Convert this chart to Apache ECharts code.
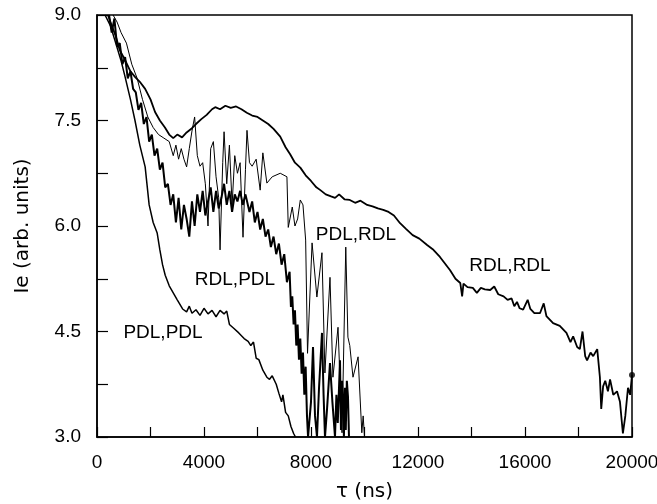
<!DOCTYPE html>
<html lang="en">
<head>
    <meta charset="UTF-8">
    <title>Ie vs tau</title>
    <script src="https://cdn.jsdelivr.net/npm/echarts@6/dist/echarts.min.js"></script>
    <style>
        html, body { margin: 0; padding: 0; background: #fff; }
    </style>
</head>
<body>
<div id="main" style="width: 657px;height:504px;"></div>

<script type="text/javascript">
    // [tau (ns), Ie]
    var pdlPdl = [[300,9.0],[500,8.85],[700,8.6],[900,8.35],[1050,8.12],[1250,7.8],[1420,7.5],[1600,7.15],
        [1800,6.84],[1950,6.3],[2100,6.05],[2250,5.9],[2350,5.66],[2450,5.45],[2550,5.3],[2700,5.15],
        [2850,5.05],[3000,4.95],[3200,4.82],[3350,4.78],[3450,4.86],[3550,4.76],[3700,4.81],[3850,4.73],
        [4000,4.83],[4150,4.75],[4300,4.8],[4450,4.71],[4600,4.8],[4750,4.75],[4850,4.79],[4950,4.6],
        [5100,4.55],[5300,4.48],[5500,4.4],[5650,4.36],[5750,4.3],[5850,4.35],[5950,4.12],[6050,4.1],
        [6200,3.95],[6350,3.85],[6450,3.82],[6550,3.87],[6700,3.75],[6800,3.62],[6900,3.5],[6950,3.6],
        [7050,3.35],[7150,3.3],[7250,3.15],[7350,3.05],[7420,3.0]];

    var rdlRdl = [[410,9.0],[550,8.85],[700,8.7],[850,8.5],[1050,8.36],[1250,8.2],[1420,8.12],[1600,8.05],
        [1800,7.95],[2000,7.8],[2170,7.62],[2350,7.5],[2540,7.4],[2700,7.3],[2850,7.25],[3000,7.3],
        [3180,7.26],[3350,7.33],[3550,7.39],[3700,7.45],[3900,7.52],[4100,7.58],[4300,7.66],[4420,7.69],
        [4600,7.66],[4800,7.71],[5000,7.68],[5200,7.7],[5400,7.66],[5600,7.61],[5800,7.57],[6000,7.55],
        [6200,7.5],[6400,7.45],[6600,7.38],[6850,7.27],[7050,7.12],[7220,7.02],[7400,6.9],[7600,6.83],
        [7800,6.72],[8000,6.64],[8200,6.55],[8350,6.51],[8550,6.45],[8750,6.42],[8900,6.4],[9050,6.45],
        [9250,6.38],[9450,6.37],[9650,6.33],[9850,6.36],[10100,6.3],[10300,6.28],[10500,6.25],[10700,6.23],
        [10900,6.2],[11100,6.15],[11330,6.04],[11550,5.96],[11800,5.87],[12050,5.82],[12340,5.73],
        [12550,5.67],[12820,5.56],[13000,5.47],[13200,5.37],[13400,5.25],[13580,5.19],[13650,5.0],
        [13700,5.18],[13850,5.13],[14050,5.12],[14200,5.05],[14350,5.12],[14500,5.1],[14700,5.09],
        [14850,5.14],[15000,5.03],[15200,5.0],[15350,4.95],[15500,4.97],[15600,4.86],[15700,4.92],
        [15800,4.83],[15930,4.81],[16100,4.95],[16200,4.82],[16350,4.76],[16560,4.76],[16700,4.9],
        [16800,4.72],[17050,4.62],[17300,4.58],[17550,4.48],[17700,4.35],[17800,4.43],[17950,4.28],
        [18050,4.25],[18150,4.5],[18250,4.15],[18320,4.09],[18450,4.2],[18550,4.15],[18700,4.25],
        [18800,3.85],[18850,3.4],[18920,3.72],[19000,3.8],[19100,3.65],[19180,3.82],[19300,3.6],
        [19440,3.65],[19550,3.5],[19660,3.05],[19750,3.3],[19850,3.7],[19930,3.6],[20000,3.88]];

    var rdlPdl = [[450,9.0],[550,8.75],[650,8.95],[750,8.55],[850,8.6],[950,8.3],[1050,8.4],[1150,8.1],
        [1250,8.2],[1350,7.95],[1450,7.9],[1550,7.65],[1650,7.75],[1750,7.45],[1850,7.55],[1950,7.2],
        [2050,7.3],[2150,7.0],[2250,7.1],[2350,6.8],[2450,6.9],[2550,6.55],[2650,6.6],[2750,6.3],
        [2850,6.45],[2950,6.05],[3050,6.4],[3150,5.95],[3250,6.3],[3350,6.1],[3450,5.85],[3550,6.35],
        [3650,6.0],[3750,6.45],[3850,6.2],[3950,6.5],[4050,6.15],[4150,6.35],[4250,6.55],[4350,6.2],
        [4450,6.5],[4550,6.25],[4650,6.4],[4750,6.6],[4850,6.3],[4950,6.5],[5050,6.2],[5150,6.45],
        [5250,6.35],[5350,6.5],[5450,6.3],[5550,6.45],[5600,6.45],[5700,6.2],[5800,6.35],[5900,6.05],
        [6000,6.2],[6100,5.95],[6200,6.1],[6300,5.85],[6400,5.95],[6500,5.7],[6600,5.85],[6700,5.6],
        [6800,5.75],[6900,5.45],[7000,5.6],[7100,5.2],[7200,5.35],[7250,4.85],[7300,5.0],[7350,4.6],
        [7400,4.8],[7450,4.3],[7500,4.6],[7550,4.1],[7600,4.4],[7650,3.9],[7700,4.2],[7750,3.6],
        [7800,4.0],[7850,3.3],[7890,3.0],[7950,3.0],[8000,3.5],[8075,4.28],[8150,3.3],[8224,3.0],
        [8300,3.7],[8411,4.48],[8470,3.6],[8523,3.0],[8600,3.4],[8710,4.05],[8800,3.5],[8897,3.0],
        [8950,3.6],[9000,3.2],[9084,4.09],[9120,3.1],[9160,3.8],[9196,3.57],[9230,3.0],[9270,3.7],
        [9300,3.1],[9340,3.8],[9383,3.57],[9420,3.0]];

    var pdlRdl = [[600,9.0],[750,8.9],[900,8.75],[1100,8.6],[1300,8.3],[1500,8.1],[1700,7.8],[1900,7.55],
        [2100,7.4],[2300,7.3],[2500,7.25],[2700,7.2],[2850,7.0],[2950,7.15],[3050,6.95],[3150,7.1],
        [3250,6.95],[3350,6.84],[3450,7.1],[3550,7.35],[3650,7.55],[3750,7.0],[3850,6.85],[3950,6.9],
        [4050,6.6],[4150,6.0],[4250,7.1],[4350,7.2],[4450,6.7],[4550,6.4],[4600,5.66],[4700,6.9],
        [4750,7.34],[4850,6.6],[4950,7.15],[5050,6.3],[5150,7.0],[5250,6.75],[5350,6.9],[5458,5.84],
        [5550,6.8],[5607,7.36],[5700,6.9],[5800,6.85],[5950,6.95],[6100,6.51],[6200,7.04],[6350,6.61],
        [6550,6.7],[6850,6.75],[7100,6.7],[7150,5.98],[7300,6.27],[7400,6.0],[7500,6.1],[7600,6.37],
        [7700,6.3],[7800,5.8],[7870,4.19],[8040,5.76],[8220,4.99],[8410,5.62],[8520,3.91],[8710,5.27],
        [8820,3.85],[9010,4.56],[9160,3.06],[9300,5.7],[9380,4.42],[9450,4.3],[9570,3.85],[9760,4.14],
        [9900,3.06],[9950,3.3],[10000,3.0]];

    // curve labels: [tau, Ie, text]
    var curveLabels = [[2467,4.48,'PDL,PDL'],[5158,5.23,'RDL,PDL'],[9682,5.87,'PDL,RDL'],[15439,5.43,'RDL,RDL']];

    var xTickLabels = [0, 4000, 8000, 12000, 16000, 20000];
    var yTickLabels = [3.0, 4.5, 6.0, 7.5, 9.0];

    var myChart = echarts.init(document.getElementById('main'));
    var font = 'Liberation Sans, Arial, sans-serif';

    function lineSeries(name, data, width) {
        return {
            name: name,
            type: 'line',
            data: data,
            showSymbol: false,
            silent: true,
            clip: true,
            lineStyle: {color: '#000', width: width},
            z: 3
        };
    }

    option = {
        animation: false,
        backgroundColor: '#fff',
        grid: {
            left: 97, right: 25, top: 15, bottom: 67,
            containLabel: false,
            outerBoundsMode: 'none',
            show: true, borderColor: '#000', borderWidth: 1.5
        },
        xAxis: {
            type: 'value',
            min: 0, max: 20000, interval: 2000,
            name: 'τ (ns)',
            nameLocation: 'middle',
            nameGap: 45,
            nameTextStyle: {fontFamily: 'DejaVu Sans', fontSize: 20, color: '#000'},
            axisLine: {lineStyle: {color: '#000', width: 1.5}},
            axisTick: {inside: true, length: 10, lineStyle: {color: '#000', width: 1.2}},
            splitLine: {show: false},
            axisLabel: {
                margin: 16, fontFamily: font, fontSize: 19, color: '#000',
                formatter: function (v) {
                    return xTickLabels.indexOf(v) >= 0 ? String(v) : '';
                }
            }
        },
        yAxis: {
            type: 'value',
            min: 3, max: 9, interval: 0.75,
            name: 'Ie (arb. units)',
            nameLocation: 'middle',
            nameGap: 64,
            nameTextStyle: {fontFamily: 'DejaVu Sans', fontSize: 20, color: '#000'},
            axisLine: {show: true, lineStyle: {color: '#000', width: 1.5}},
            axisTick: {show: true, inside: true, length: 11, lineStyle: {color: '#000', width: 1.2}},
            splitLine: {show: false},
            axisLabel: {
                margin: 16, fontFamily: font, fontSize: 19, color: '#000',
                formatter: function (v) {
                    for (var i = 0; i < yTickLabels.length; i++) {
                        if (Math.abs(yTickLabels[i] - v) < 1e-6) return v.toFixed(1);
                    }
                    return '';
                }
            }
        },
        series: [
            lineSeries('PDL,PDL', pdlPdl, 1.5),
            lineSeries('RDL,RDL', rdlRdl, 1.8),
            lineSeries('RDL,PDL', rdlPdl, 2),
            lineSeries('PDL,RDL', pdlRdl, 1),
            {
                type: 'scatter',
                data: [rdlRdl[rdlRdl.length - 1]],
                symbol: 'circle',
                symbolSize: 6,
                itemStyle: {color: '#000'},
                silent: true,
                z: 4
            },
            {
                type: 'scatter',
                data: curveLabels,
                symbolSize: 0,
                silent: true,
                label: {
                    show: true,
                    position: 'inside',
                    formatter: function (p) { return p.data[2]; },
                    fontFamily: font, fontSize: 19, color: '#000',
                    textBorderWidth: 0, opacity: 1
                },
                z: 5
            }
        ]
    };
    myChart.setOption(option);
</script>
</body>
</html>
